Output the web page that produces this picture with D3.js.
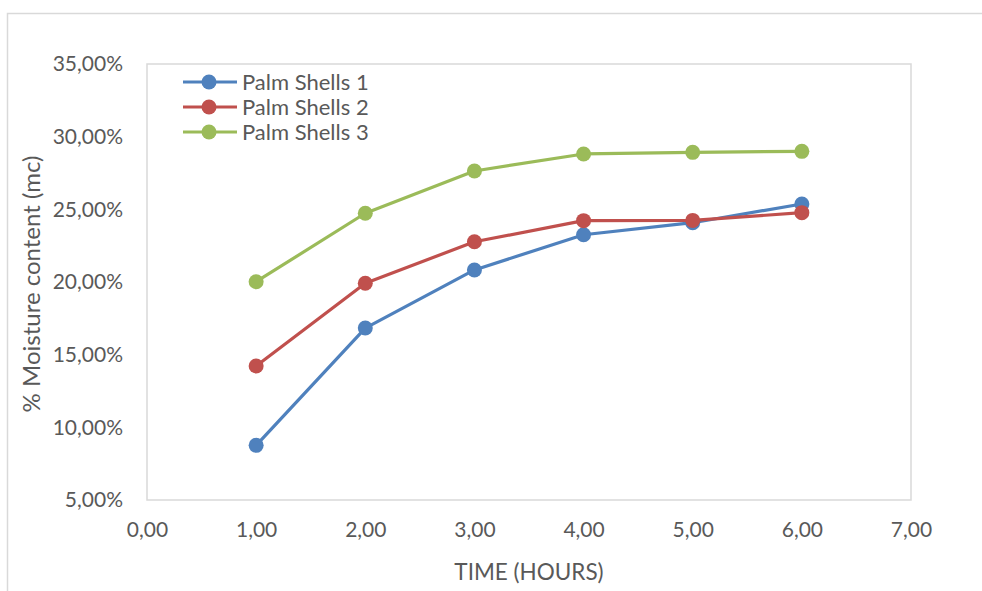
<!DOCTYPE html>
<html>
<head>
<meta charset="utf-8">
<script src="https://cdn.jsdelivr.net/npm/d3@7/dist/d3.min.js"></script>
<style>
  html, body { margin: 0; padding: 0; background: #fff; }
  svg { display: block; }
  text { font-family: Lato, "Open Sans", sans-serif; fill: #595959; }
</style>
</head>
<body>
<svg id="chart" width="982" height="591"></svg>
<script>
// Drying time (hours) and moisture content (%) of three palm shell samples
const hours = [1, 2, 3, 4, 5, 6];
const palmShells1 = [8.76, 16.83, 20.83, 23.25, 24.08, 25.37];
const palmShells2 = [14.22, 19.91, 22.77, 24.22, 24.24, 24.77];
const palmShells3 = [20.02, 24.73, 27.64, 28.81, 28.92, 28.99];
const seriesNames = ["Palm Shells 1", "Palm Shells 2", "Palm Shells 3"];
const seriesColors = ["#4f81bd", "#c0504d", "#9bbb59"];
const xTicks = [0, 1, 2, 3, 4, 5, 6, 7];
const yTicks = [5, 10, 15, 20, 25, 30, 35];

const series = [palmShells1, palmShells2, palmShells3].map((vals, i) => ({
  name: seriesNames[i],
  color: seriesColors[i],
  points: hours.map((h, j) => ({ x: h, y: vals[j] }))
}));

const svg = d3.select("#chart");
const plot = { left: 147, top: 64, right: 911, bottom: 500 };

// chart frame
svg.append("rect")
  .attr("x", 7.5).attr("y", 13.5)
  .attr("width", 1000).attr("height", 600)
  .attr("fill", "#fff").attr("stroke", "#d9d9d9").attr("stroke-width", 1.5);

const x = d3.scaleLinear().domain([0, 7]).range([plot.left, plot.right]);
const y = d3.scaleLinear().domain([5, 35]).range([plot.bottom, plot.top]);

// plot area border
svg.append("rect")
  .attr("x", plot.left).attr("y", plot.top)
  .attr("width", plot.right - plot.left).attr("height", plot.bottom - plot.top)
  .attr("fill", "none").attr("stroke", "#d9d9d9").attr("stroke-width", 1.5);

const fmt = v => d3.format(".2f")(v).replace(".", ",");

// x axis
const xAxis = svg.append("g")
  .attr("transform", `translate(0,${plot.bottom})`)
  .call(d3.axisBottom(x).tickValues(xTicks).tickSize(0).tickPadding(22).tickFormat(fmt));
xAxis.select(".domain").remove();
xAxis.selectAll("text").attr("font-size", 21).style("font-family", "Lato, sans-serif").attr("fill", "#595959");

// y axis
const yAxis = svg.append("g")
  .attr("transform", `translate(${plot.left},0)`)
  .call(d3.axisLeft(y).tickValues(yTicks).tickSize(0).tickPadding(24).tickFormat(v => fmt(v) + "%"));
yAxis.select(".domain").remove();
yAxis.selectAll("text").attr("font-size", 21).style("font-family", "Lato, sans-serif").attr("fill", "#595959");

// axis titles
svg.append("text")
  .attr("x", (plot.left + plot.right) / 2).attr("y", 580)
  .attr("text-anchor", "middle").attr("font-size", 22.5)
  .text("TIME (HOURS)");

svg.append("text")
  .attr("transform", `translate(40,${(plot.top + plot.bottom) / 2 + 2}) rotate(-90)`)
  .attr("text-anchor", "middle").attr("font-size", 24)
  .text("% Moisture content (mc)");

// lines and markers
const line = d3.line().x(d => x(d.x)).y(d => y(d.y));
series.forEach(s => {
  svg.append("path")
    .datum(s.points)
    .attr("d", line)
    .attr("fill", "none")
    .attr("stroke", s.color)
    .attr("stroke-width", 3.2)
    .attr("stroke-linejoin", "round");
  svg.append("g").selectAll("circle")
    .data(s.points)
    .join("circle")
    .attr("cx", d => x(d.x)).attr("cy", d => y(d.y))
    .attr("r", 7.5)
    .attr("fill", s.color);
});

// legend
const legend = svg.append("g");
series.forEach((s, i) => {
  const ly = 82 + i * 25;
  legend.append("line")
    .attr("x1", 183).attr("x2", 237).attr("y1", ly).attr("y2", ly)
    .attr("stroke", s.color).attr("stroke-width", 3.2);
  legend.append("circle")
    .attr("cx", 209).attr("cy", ly).attr("r", 7.5).attr("fill", s.color);
  legend.append("text")
    .attr("x", 242).attr("y", ly).attr("dy", "0.35em")
    .attr("font-size", 22)
    .text(s.name);
});
</script>
</body>
</html>
